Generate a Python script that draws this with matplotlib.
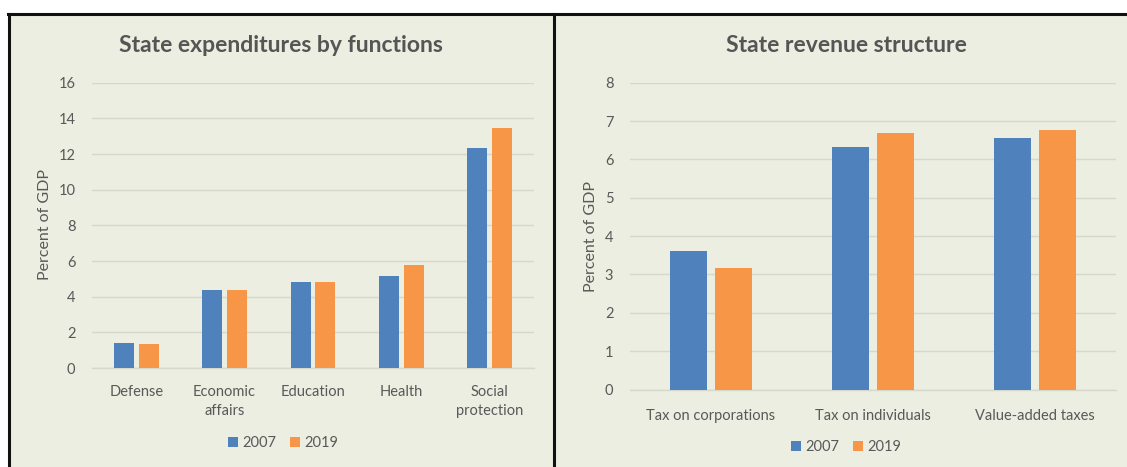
import matplotlib
matplotlib.use("Agg")
import matplotlib.pyplot as plt
import numpy as np
from matplotlib.lines import Line2D
from matplotlib.patches import Rectangle, Patch

plt.rcParams['font.family'] = ['Lato', 'DejaVu Sans']

# ---- data ----
exp_categories = ["Defense", "Economic\naffairs", "Education", "Health", "Social\nprotection"]
exp_2007 = [1.42, 4.35, 4.8, 5.15, 12.35]
exp_2019 = [1.35, 4.4, 4.8, 5.75, 13.45]
exp_yticks = [0, 2, 4, 6, 8, 10, 12, 14, 16]

rev_categories = ["Tax on corporations", "Tax on individuals", "Value-added taxes"]
rev_2007 = [3.6, 6.33, 6.56]
rev_2019 = [3.17, 6.68, 6.77]
rev_yticks = [0, 1, 2, 3, 4, 5, 6, 7, 8]

series_labels = ["2007", "2019"]
titles = ["State expenditures by functions", "State revenue structure"]
ylabel = "Percent of GDP"

# ---- style ----
W, H = 1127, 467
BG = "#EBEEE0"
BLUE = "#4F81BD"
ORANGE = "#F79646"
GRID = "#D5D8CC"
TXT = "#595959"
TITLE_C = "#555555"

fig = plt.figure(figsize=(W / 100, H / 100), dpi=100)
fig.patch.set_facecolor("white")

def fx(px):
    return px / W

def fy(py):
    return 1 - py / H

# panel background and borders
fig.patches.append(Rectangle((fx(9), 0), 1 - fx(9), fy(14), transform=fig.transFigure,
                             facecolor=BG, edgecolor="none", zorder=-5))
for line in [
    Line2D([fx(8), 1], [fy(14), fy(14)]),
    Line2D([fx(9), fx(9)], [0, fy(14)]),
    Line2D([fx(554), fx(554)], [0, fy(14)]),
]:
    line.set_transform(fig.transFigure)
    line.set_color("#111111")
    line.set_linewidth(2.2)
    line.set_zorder(5)
    fig.lines.append(line)


def make_panel(rect, cats, v1, v2, yticks, title, title_xy, ylabel_xy, legend_xy, xlab_pad):
    ax = fig.add_axes(rect)
    ax.set_facecolor("none")
    x = np.arange(len(cats))
    w = 0.225
    off = 0.14
    ax.bar(x - off, v1, w, color=BLUE, label=series_labels[0], zorder=3)
    ax.bar(x + off, v2, w, color=ORANGE, label=series_labels[1], zorder=3)
    ax.set_xlim(-0.5, len(cats) - 0.5)
    ax.set_ylim(yticks[0], yticks[-1])
    ax.set_yticks(yticks)
    ax.set_xticks(x)
    ax.set_xticklabels(cats, linespacing=1.45)
    ax.grid(axis="y", color=GRID, linewidth=1.0, zorder=0)
    for s in ["top", "right", "left"]:
        ax.spines[s].set_visible(False)
    ax.spines["bottom"].set_color(GRID)
    ax.spines["bottom"].set_linewidth(1.0)
    ax.tick_params(axis="both", length=0, colors=TXT, labelsize=10.5)
    ax.tick_params(axis="y", pad=12)
    ax.tick_params(axis="x", pad=xlab_pad)
    fig.text(fx(title_xy[0]), fy(title_xy[1]), title, ha="center", va="center",
             fontsize=16.5, fontweight="bold", color=TITLE_C)
    fig.text(fx(ylabel_xy[0]), fy(ylabel_xy[1]), ylabel, ha="center", va="center",
             rotation=90, fontsize=11.5, color=TXT)
    handles = [Patch(facecolor=BLUE), Patch(facecolor=ORANGE)]
    fig.legend(handles, series_labels, loc="center", bbox_to_anchor=(fx(legend_xy[0]), fy(legend_xy[1])),
               ncol=2, frameon=False, fontsize=10.5, labelcolor=TXT, handlelength=0.7,
               handleheight=0.7, handletextpad=0.3, columnspacing=0.9)
    return ax


make_panel([fx(92), fy(368), fx(534) - fx(92), fy(82.7) - fy(368)],
           exp_categories, exp_2007, exp_2019, exp_yticks, titles[0],
           (281, 46), (45, 225), (283, 443), 12)
make_panel([fx(630), fy(389.5), fx(1116) - fx(630), fy(82.7) - fy(389.5)],
           rev_categories, rev_2007, rev_2019, rev_yticks, titles[1],
           (846, 46), (591, 236), (846, 447), 14)

fig.savefig("out.png", dpi=100, facecolor=fig.get_facecolor())
